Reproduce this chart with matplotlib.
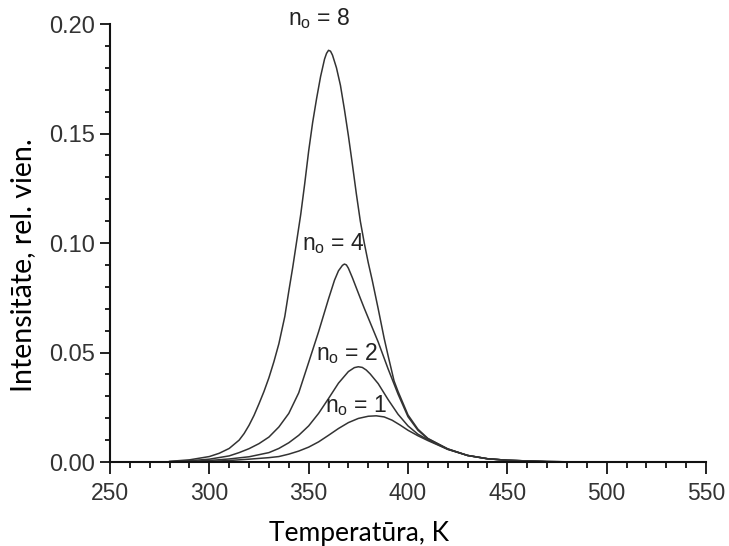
import matplotlib
matplotlib.use('Agg')
import matplotlib.pyplot as plt
from matplotlib.ticker import MultipleLocator, FormatStrFormatter

plt.rcParams['font.family'] = ['Liberation Sans', 'DejaVu Sans']
plt.rcParams['mathtext.fontset'] = 'custom'
plt.rcParams['mathtext.rm'] = 'Liberation Sans'

# Glow curves (temperature in K, intensity in rel. units)
T8 = [280, 290, 300, 305, 310, 315, 317.5, 320, 322.5, 325, 327.5, 330, 332.5,
      335, 338, 340, 342, 344, 346, 348, 350, 352, 354, 356, 358, 359, 360,
      361, 362, 364, 366, 368, 370, 372, 374, 376, 378, 380, 382, 385, 388,
      390, 393, 395, 400, 405, 410, 420, 430, 440, 450, 470, 490]
I8 = [0.0003, 0.0010, 0.0025, 0.0040, 0.0062, 0.0100, 0.0130, 0.0168, 0.0213,
      0.0266, 0.0322, 0.0385, 0.0458, 0.0540, 0.0665, 0.0780, 0.0890, 0.1010,
      0.1130, 0.1270, 0.1420, 0.1550, 0.1660, 0.1760, 0.1840, 0.1866, 0.1880,
      0.1876, 0.1858, 0.1800, 0.1720, 0.1610, 0.1490, 0.1360, 0.1225, 0.1100,
      0.1000, 0.0910, 0.0830, 0.0700, 0.0565, 0.0485, 0.0370, 0.0322, 0.0215,
      0.0150, 0.0108, 0.0060, 0.0030, 0.0015, 0.0008, 0.0002, 0.0]

T4 = [280, 290, 300, 310, 315, 320, 325, 330, 335, 340, 345, 350, 355, 360, 363,
      365, 367, 368, 369, 370, 372, 374, 376, 378, 380, 385, 390, 395, 400, 405,
      410, 420, 430, 440, 450, 470, 490]
I4 = [0.0002, 0.0006, 0.0013, 0.0028, 0.0043, 0.0061, 0.0084, 0.0114, 0.0160,
      0.0222, 0.0316, 0.0455, 0.0595, 0.0745, 0.0830, 0.0873, 0.0898, 0.0904,
      0.0900, 0.0885, 0.0842, 0.0795, 0.0748, 0.0702, 0.0658, 0.0548, 0.0425,
      0.0310, 0.0207, 0.0145, 0.0106, 0.0060, 0.0030, 0.0015, 0.0008, 0.0002,
      0.0]

T2 = [280, 290, 300, 310, 320, 330, 335, 340, 345, 350, 355, 360, 365, 370, 373,
      375, 377, 379, 381, 385, 390, 395, 400, 405, 410, 420, 430, 440, 450, 470,
      490]
I2 = [0.0001, 0.0003, 0.0007, 0.0014, 0.0024, 0.0043, 0.0062, 0.0088, 0.0122,
      0.0165, 0.0222, 0.0290, 0.0360, 0.0413, 0.0431, 0.0435, 0.0432, 0.0420,
      0.0402, 0.0358, 0.0285, 0.0218, 0.0165, 0.0127, 0.0102, 0.0058, 0.0030,
      0.0015, 0.0008, 0.0002, 0.0]

T1 = [280, 290, 300, 310, 320, 330, 335, 340, 345, 350, 355, 360, 365, 370, 375,
      380, 384, 388, 392, 396, 400, 405, 410, 420, 430, 440, 450, 470, 490]
I1 = [0.0000, 0.0001, 0.0003, 0.0007, 0.0013, 0.0020, 0.0025, 0.0036, 0.0050,
      0.0068, 0.0092, 0.0122, 0.0153, 0.0180, 0.0199, 0.0209, 0.0211, 0.0206,
      0.0191, 0.0169, 0.0145, 0.0120, 0.0098, 0.0058, 0.0030, 0.0015, 0.0008,
      0.0002, 0.0]

curves = [(T8, I8), (T4, I4), (T2, I2), (T1, I1)]

# curve labels: text, temperature, intensity (baseline)
labels = [r'n$_\mathregular{o}$ = 8', r'n$_\mathregular{o}$ = 4',
          r'n$_\mathregular{o}$ = 2', r'n$_\mathregular{o}$ = 1']
label_T = [355.2, 362.4, 369.1, 374.1]
label_I = [0.1995, 0.0968, 0.0466, 0.0230]

fig = plt.figure(figsize=(7.29, 5.46), dpi=100)
ax = fig.add_axes([0.1509, 0.1538, 0.8175, 0.8022])

for T, I in curves:
    ax.plot(T, I, color='#333333', lw=1.1)

for txt, t, i in zip(labels, label_T, label_I):
    ax.text(t, i, txt, ha='center', va='baseline', fontsize=16.5,
            color='#222222')

ax.set_xlim(250, 550)
ax.set_ylim(0, 0.20)
ax.xaxis.set_major_locator(MultipleLocator(50))
ax.xaxis.set_minor_locator(MultipleLocator(10))
ax.yaxis.set_major_locator(MultipleLocator(0.05))
ax.yaxis.set_minor_locator(MultipleLocator(0.01))
ax.yaxis.set_major_formatter(FormatStrFormatter('%.2f'))

for s in ['top', 'right']:
    ax.spines[s].set_visible(False)
for s in ['left', 'bottom']:
    ax.spines[s].set_linewidth(1.5)
    ax.spines[s].set_color('#111111')

ax.tick_params(axis='both', which='both', direction='out', colors='#111111',
               labelcolor='#333333', width=1.3)
ax.tick_params(axis='x', which='major', length=8.5, labelsize=16.5, pad=6)
ax.tick_params(axis='x', which='minor', length=4.5)
ax.tick_params(axis='y', which='major', length=7, labelsize=17, pad=4)
ax.tick_params(axis='y', which='minor', length=3.6)

fig.text(0.4925, 0.022, 'Temperatūra, K', ha='center', va='center',
         fontsize=19, family=['Lato', 'DejaVu Sans'], color='black')
fig.text(0.032, 0.515, 'Intensitāte, rel. vien.', ha='center', va='center',
         rotation=90, fontsize=20.5, family=['Lato', 'DejaVu Sans'],
         color='black')

fig.savefig('out.png', dpi=100)
